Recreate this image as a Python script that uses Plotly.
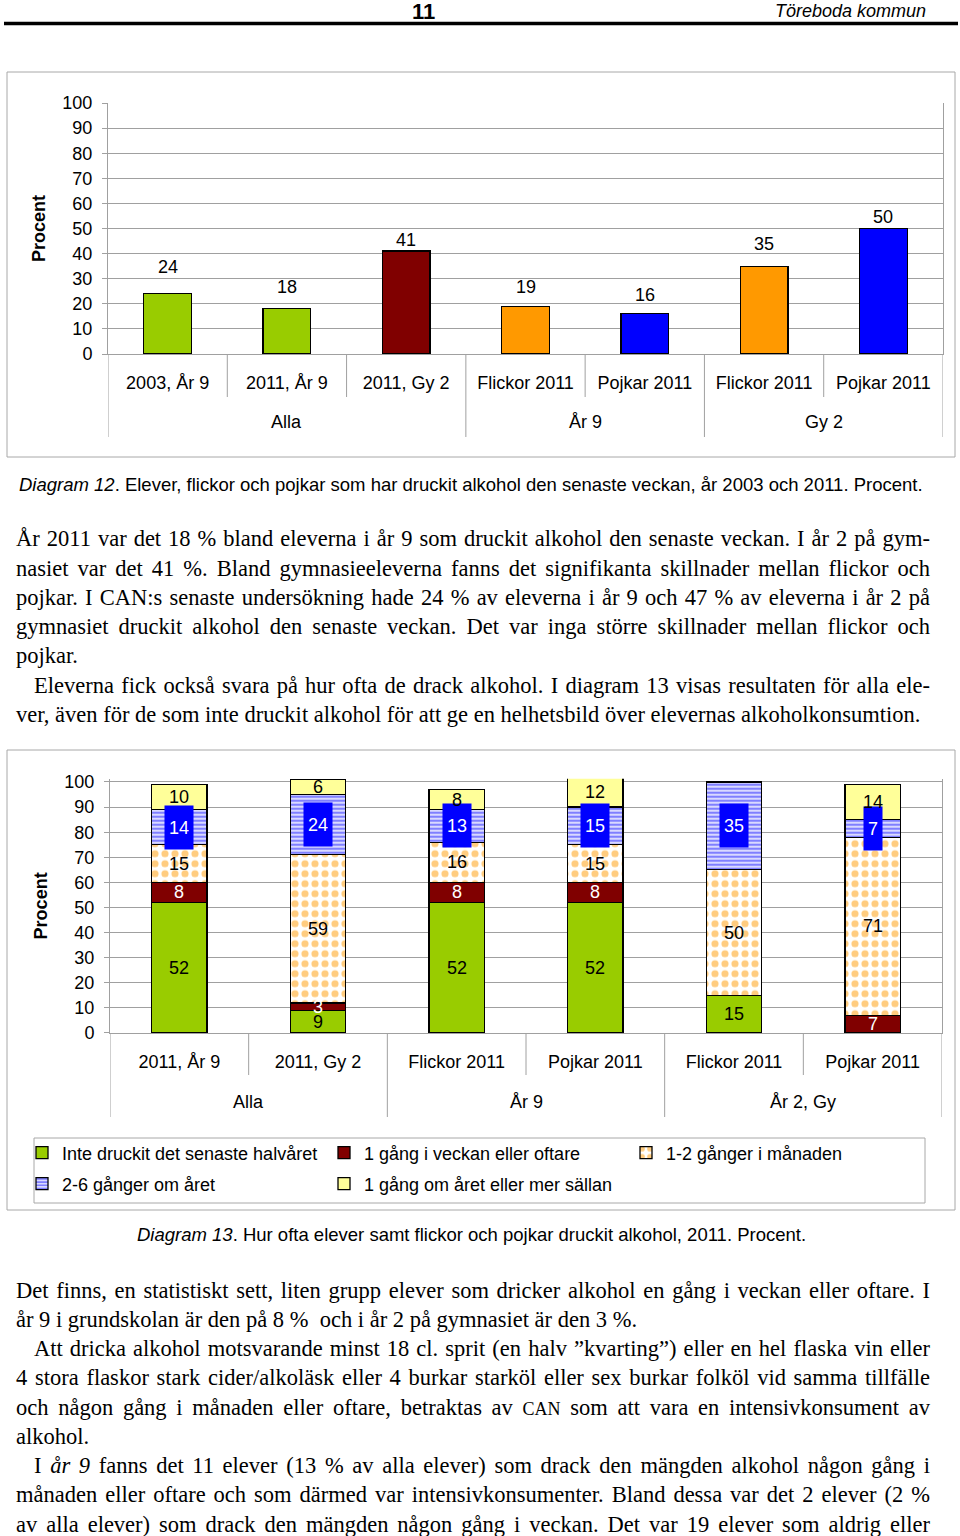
import json
import plotly.graph_objects as go

W, H = 960, 1536
SANS = "Liberation Sans, Arial, sans-serif"
SERIF = "Liberation Serif, Times New Roman, serif"

# ---------------- data ----------------
page_number = "11"
page_title = "Töreboda kommun"

c1_categories = ["2003, År 9", "2011, År 9", "2011, Gy 2", "Flickor 2011",
                 "Pojkar 2011", "Flickor 2011", "Pojkar 2011"]
c1_groups = ["Alla", "År 9", "Gy 2"]
c1_group_sizes = [3, 2, 2]
c1_values = [24, 18, 41, 19, 16, 35, 50]

c2_categories = ["2011, År 9", "2011, Gy 2", "Flickor 2011", "Pojkar 2011",
                 "Flickor 2011", "Pojkar 2011"]
c2_groups = ["Alla", "År 9", "År 2, Gy"]
c2_group_sizes = [2, 2, 2]
c2_series_names = ["Inte druckit det senaste halvåret", "1 gång i veckan eller oftare",
                   "1-2 gånger i månaden", "2-6 gånger om året",
                   "1 gång om året eller mer sällan"]
c2_inte = [52, 9, 52, 52, 15, 0]
c2_vecka = [8, 3, 8, 8, 0, 7]
c2_manad = [15, 59, 16, 15, 50, 71]
c2_aret = [14, 24, 13, 15, 35, 7]
c2_sallan = [10, 6, 8, 12, 0, 14]

caption12 = ("<i>Diagram 12</i>. Elever, flickor och pojkar som har druckit alkohol den "
             "senaste veckan, år 2003 och 2011. Procent.")
caption13 = "<i>Diagram 13</i>. Hur ofta elever samt flickor och pojkar druckit alkohol, 2011. Procent."

block1_lines = [
    "År 2011 var det 18 % bland eleverna i år 9 som druckit alkohol den senaste veckan. I år 2 på gym-",
    "nasiet var det 41 %. Bland gymnasieeleverna fanns det signifikanta skillnader mellan flickor och",
    "pojkar. I CAN:s senaste undersökning hade 24 % av eleverna i år 9 och 47 % av eleverna i år 2 på",
    "gymnasiet druckit alkohol den senaste veckan. Det var inga större skillnader mellan flickor och",
    "pojkar.",
    "Eleverna fick också svara på hur ofta de drack alkohol. I diagram 13 visas resultaten för alla ele-",
    "ver, även för de som inte druckit alkohol för att ge en helhetsbild över elevernas alkoholkonsumtion.",
]
block1_indent = [0, 0, 0, 0, 0, 1, 0]
block1_justify = [1, 1, 1, 1, 0, 1, 0]

block2_lines = [
    "Det finns, en statistiskt sett, liten grupp elever som dricker alkohol en gång i veckan eller oftare. I",
    "år 9 i grundskolan är den på 8 %  och i år 2 på gymnasiet är den 3 %.",
    "Att dricka alkohol motsvarande minst 18 cl. sprit (en halv ”kvarting”) eller en hel flaska vin eller",
    "4 stora flaskor stark cider/alkoläsk eller 4 burkar starköl eller sex burkar folköl vid samma tillfälle",
    "och någon gång i månaden eller oftare, betraktas av <span style='font-size:18px'>CAN</span> som att vara en intensivkonsument av",
    "alkohol.",
    "I <i>år 9</i> fanns det 11 elever (13 % av alla elever) som drack den mängden alkohol någon gång i",
    "månaden eller oftare och som därmed var intensivkonsumenter. Bland dessa var det 2 elever (2 %",
    "av alla elever) som drack den mängden någon gång i veckan. Det var 19 elever som aldrig eller",
]
block2_indent = [0, 0, 1, 0, 0, 0, 1, 0, 0]
block2_justify = [1, 0, 1, 1, 1, 0, 1, 1, 1]

# ---------------- styles ----------------
GREEN, DRED, ORANGE, BLUE, LYELLOW = "#99CC00", "#800000", "#FF9900", "#0000FF", "#FFFF99"
c1_colors = [GREEN, GREEN, DRED, ORANGE, BLUE, ORANGE, BLUE]
c1_label_shift = [27, 22, 11, 19, 19, 22, 11]
GRID = "#A0A0A0"
FRAME = "#A8A8A8"
FS = 18


def yp(p):
    return 1 - p / H


def xp(p):
    return p / W


fig = go.Figure()
annotations = []
shapes = []

# ---------------- chart 1 ----------------
c1_y0, c1_y100 = 354, 103
c1_x0, c1_x1 = 108, 943
fig.add_trace(go.Bar(
    x=list(range(len(c1_values))), y=c1_values, width=0.4,
    marker=dict(color=c1_colors, line=dict(color="black", width=1.3)),
    showlegend=False, hoverinfo="skip", xaxis="x", yaxis="y"))
for i, v in enumerate(c1_values):
    annotations.append(dict(x=i, y=v, xref="x", yref="y", text=str(v), showarrow=False,
                            yanchor="middle", yshift=c1_label_shift[i],
                            font=dict(family=SANS, size=FS, color="black")))

# ---------------- chart 2 ----------------
c2_y0 = 1033
c2_unit = (1033 - 782) / 100.0
c2_top = 101.3
c2_x0, c2_x1 = 110, 942
c2_series = [c2_inte, c2_vecka, c2_manad, c2_aret, c2_sallan]
c2_styles = [
    dict(color=GREEN, pattern=None, font="black", box=None),
    dict(color=DRED, pattern=None, font="white", box=None),
    dict(color="white", pattern=dict(shape=".", fgcolor=ORANGE, bgcolor="white", size=10, solidity=0.4),
         font="black", box=None),
    dict(color="white", pattern=dict(shape="-", fgcolor=BLUE, bgcolor="white", size=4, solidity=0.65),
         font="white", box=BLUE),
    dict(color=LYELLOW, pattern=None, font="black", box=None),
]
n2 = len(c2_categories)
cum = [0] * n2
for k, (name, vals, st) in enumerate(zip(c2_series_names, c2_series, c2_styles)):
    marker = dict(color=st["color"], line=dict(color="black", width=1.3))
    if st["pattern"]:
        marker["pattern"] = st["pattern"]
    fig.add_trace(go.Bar(
        x=list(range(n2)), y=vals, width=0.4, name=name, marker=marker,
        hoverinfo="skip", xaxis="x2", yaxis="y2",
        legend="legend" if k < 3 else "legend2"))
    for i, v in enumerate(vals):
        if v > 0:
            a = dict(x=i, y=cum[i] + v / 2.0, xref="x2", yref="y2", text=str(v), showarrow=False,
                     yanchor="middle", font=dict(family=SANS, size=FS, color=st["font"]))
            if st["box"]:
                a.update(bgcolor=st["box"], height=35, borderpad=4)
            annotations.append(a)
        cum[i] += v


# ---------------- category separators & group labels ----------------
def category_frame(xref, group_sizes, groups, y_axis, y_short, y_long, y_group):
    n = sum(group_sizes)
    bounds = set()
    s = 0
    for g in group_sizes:
        s += g
        bounds.add(s)
    for b in range(0, n + 1):
        long_line = b == 0 or b in bounds
        shapes.append(dict(type="line", xref=xref, yref="paper", x0=b - 0.5, x1=b - 0.5,
                           y0=yp(y_axis), y1=yp(y_long if long_line else y_short),
                           line=dict(color=GRID, width=1)))
    s = 0
    for g, label in zip(group_sizes, groups):
        annotations.append(dict(x=s + (g - 1) / 2.0, y=yp(y_group), xref=xref, yref="paper",
                                text=label, showarrow=False, yanchor="middle",
                                font=dict(family=SANS, size=FS, color="black")))
        s += g


category_frame("x", c1_group_sizes, c1_groups, c1_y0, 397, 437, 422)
category_frame("x2", c2_group_sizes, c2_groups, c2_y0, 1075, 1117, 1102)

# ---------------- frames ----------------
shapes.append(dict(type="rect", xref="paper", yref="paper", x0=xp(7), x1=xp(955), y0=yp(457), y1=yp(72),
                   line=dict(color=FRAME, width=1), layer="below"))
shapes.append(dict(type="rect", xref="paper", yref="paper", x0=xp(7), x1=xp(955), y0=yp(1210), y1=yp(750),
                   line=dict(color=FRAME, width=1), layer="below"))
shapes.append(dict(type="rect", xref="paper", yref="paper", x0=xp(34), x1=xp(925), y0=yp(1203), y1=yp(1138),
                   line=dict(color=FRAME, width=1), layer="below"))
# header rule
shapes.append(dict(type="line", xref="paper", yref="paper", x0=xp(4), x1=xp(958), y0=yp(23.5), y1=yp(23.5),
                   line=dict(color="black", width=3.5)))

# ---------------- header ----------------
annotations.append(dict(x=xp(423), y=yp(11), xref="paper", yref="paper", text="<b>%s</b>" % page_number,
                        showarrow=False, yanchor="middle", font=dict(family=SANS, size=22, color="black")))
annotations.append(dict(x=xp(928), y=yp(11), xref="paper", yref="paper", xanchor="right", yanchor="middle",
                        text="<i>%s</i>" % page_title, showarrow=False,
                        font=dict(family=SANS, size=18, color="black")))

# ---------------- captions ----------------
annotations.append(dict(x=xp(471), y=yp(484), xref="paper", yref="paper", text=caption12, showarrow=False,
                        yanchor="middle", font=dict(family=SANS, size=18.5, color="black")))
annotations.append(dict(x=xp(471), y=yp(1234), xref="paper", yref="paper", text=caption13, showarrow=False,
                        yanchor="middle", font=dict(family=SANS, size=18.5, color="black")))

# ---------------- body text ----------------
justify_map = {}
TEXT_RIGHT = 928


def text_block(lines, indents, justs, y_first, spacing):
    for j, (t, ind, ju) in enumerate(zip(lines, indents, justs)):
        x_left = 32 if ind else 14
        annotations.append(dict(x=xp(x_left), y=yp(y_first + j * spacing), xref="paper", yref="paper",
                                xanchor="left", yanchor="middle", align="left", text=t, showarrow=False,
                                font=dict(family=SERIF, size=22.5, color="black")))
        if ju:
            justify_map[str(len(annotations) - 1)] = TEXT_RIGHT - x_left


text_block(block1_lines, block1_indent, block1_justify, 539, 29.2)
text_block(block2_lines, block2_indent, block2_justify, 1290, 29.25)

# ---------------- layout ----------------
axis_font = dict(family=SANS, size=FS, color="black")
fig.update_layout(
    width=W, height=H, margin=dict(l=0, r=0, t=0, b=0, pad=0, autoexpand=False),
    paper_bgcolor="white", plot_bgcolor="white",
    barmode="stack", showlegend=True,
    font=dict(family=SANS, size=FS, color="black"),
    xaxis=dict(domain=[xp(c1_x0), xp(c1_x1)], range=[-0.5, len(c1_values) - 0.5], anchor="y",
               tickvals=list(range(len(c1_values))), ticktext=c1_categories, tickfont=axis_font,
               showgrid=False, zeroline=False, showline=True, linecolor=GRID, ticks="",
               ticklabelstandoff=12, automargin=False, fixedrange=True),
    yaxis=dict(domain=[yp(c1_y0), yp(c1_y100)], range=[0, 100], anchor="x", dtick=10,
               tickfont=axis_font, showgrid=True, gridcolor=GRID, zeroline=False,
               showline=True, linecolor=GRID, mirror=True, ticks="outside", ticklen=5, tickcolor=GRID,
               ticklabelstandoff=6, automargin=False,
               title=dict(text="<b>Procent</b>", font=dict(family=SANS, size=FS, color="black"), standoff=12),
               fixedrange=True),
    xaxis2=dict(domain=[xp(c2_x0), xp(c2_x1)], range=[-0.5, n2 - 0.5], anchor="y2",
                tickvals=list(range(n2)), ticktext=c2_categories, tickfont=axis_font,
                showgrid=False, zeroline=False, showline=True, linecolor=GRID, ticks="",
                ticklabelstandoff=12, automargin=False, fixedrange=True),
    yaxis2=dict(domain=[yp(c2_y0), yp(c2_y0 - c2_top * c2_unit)], range=[0, c2_top], anchor="x2",
                tickvals=list(range(0, 101, 10)), tickfont=axis_font, showgrid=True, gridcolor=GRID,
                zeroline=False, showline=True, linecolor=GRID, mirror=True, ticks="outside", ticklen=5,
                tickcolor=GRID, ticklabelstandoff=6, automargin=False,
                title=dict(text="<b>Procent</b>", font=dict(family=SANS, size=FS, color="black"), standoff=12),
                fixedrange=True),
    legend=dict(orientation="h", x=xp(22), y=yp(1153), xanchor="left", yanchor="middle",
                entrywidth=257, traceorder="normal", bgcolor="rgba(0,0,0,0)", borderwidth=0,
                font=dict(family=SANS, size=18, color="black")),
    legend2=dict(orientation="h", x=xp(22), y=yp(1184), xanchor="left", yanchor="middle",
                 entrywidth=257, traceorder="normal", bgcolor="rgba(0,0,0,0)", borderwidth=0,
                 font=dict(family=SANS, size=18, color="black")),
    annotations=annotations, shapes=shapes,
)

post = """
document.body.style.margin='0';
document.body.style.overflow='hidden';
var J = %s;
document.querySelectorAll('g.annotation').forEach(function(g){
  var k = g.getAttribute('data-index');
  if (Object.prototype.hasOwnProperty.call(J, k)) {
    var t = g.querySelector('text.annotation-text');
    if (!t) return;
    var s = t.textContent;
    var n = (s.match(/ /g) || []).length;
    var w = t.getComputedTextLength();
    if (n > 0) t.style.wordSpacing = ((J[k] - w) / n) + 'px';
  }
});
""" % json.dumps(justify_map)

fig.write_html("out.html", post_script=post, config={"displayModeBar": False})
